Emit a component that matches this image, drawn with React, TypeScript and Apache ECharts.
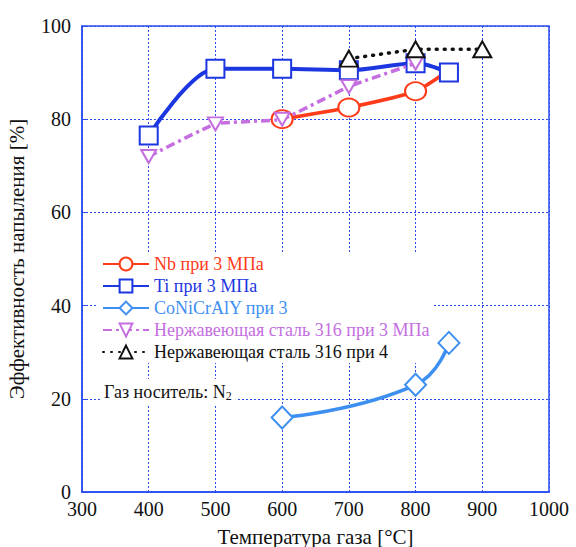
import React, { useEffect, useRef } from "react";
import * as echarts from "echarts";

const seriesNames = [
  "Nb при 3 МПа",
  "Ti при 3 МПа",
  "CoNiCrAlY при 3",
  "Нержавеющая сталь 316 при 3 МПа",
  "Нержавеющая сталь 316 при 4",
];
const nbTemps = [600, 700, 800, 850];
const nbValues = [80, 82.5, 86, 90.5];
const tiTemps = [400, 500, 600, 700, 800, 850];
const tiValues = [76.5, 90.8, 90.8, 90.5, 92, 90];
const coTemps = [600, 800, 850];
const coValues = [16, 23, 32];
const ss3Temps = [400, 500, 600, 700, 800];
const ss3Values = [72, 79, 80, 87, 92];
const ss4Temps = [700, 800, 900];
const ss4Values = [93, 95, 95];
const xTicks = { min: 300, max: 1000, interval: 100 };
const yTicks = { min: 0, max: 100, interval: 20 };
const note = "Газ носитель: N";

const FONT = "Times New Roman, Liberation Serif, serif";
const GRID_BLUE = "#2a4cf0";

export default function App() {
  const ref = useRef<HTMLDivElement>(null);
  useEffect(() => {
    document.body.style.margin = "0";
    const chart = echarts.init(ref.current!, null, { renderer: "svg" });
    const pairs = (xs: number[], ys: number[]) => xs.map((x, i) => [x, ys[i]]);
    const nbData: any[] = pairs(nbTemps, nbValues);
    nbData[nbData.length - 1] = { value: nbData[nbData.length - 1], symbol: "none" };
    const colors = ["#ff3b1a", "#1c36e0", "#3d8ff2", "#c46ee0", "#111111"];
    chart.setOption({
      animation: false,
      textStyle: { fontFamily: FONT },
      grid: {
        left: 82, right: 27, top: 26, bottom: 55,
        outerBoundsMode: "none", containLabel: false,
        show: true, borderColor: GRID_BLUE, borderWidth: 1.5,
      },
      xAxis: {
        type: "value",
        ...xTicks,
        name: "Температура газа [°C]",
        nameLocation: "middle",
        nameGap: 34,
        nameTextStyle: { fontFamily: FONT, fontSize: 21, color: "#111" },
        axisLine: { show: true, lineStyle: { color: GRID_BLUE, width: 1.5 } },
        axisTick: { show: false },
        axisLabel: { fontFamily: FONT, fontSize: 20, color: "#111", margin: 7, formatter: (v: number) => String(v) },
        splitLine: { show: true, lineStyle: { color: GRID_BLUE, type: [2, 2], width: 1 } },
      },
      yAxis: {
        type: "value",
        ...yTicks,
        name: "Эффективность напыления [%]",
        nameLocation: "middle",
        nameGap: 55,
        nameTextStyle: { fontFamily: FONT, fontSize: 21, color: "#111" },
        axisLine: { show: true, lineStyle: { color: GRID_BLUE, width: 1.5 } },
        axisTick: { show: true, inside: true, length: 5, lineStyle: { color: GRID_BLUE } },
        axisLabel: { fontFamily: FONT, fontSize: 20, color: "#111", margin: 11 },
        splitLine: { show: true, lineStyle: { color: GRID_BLUE, type: [2, 2], width: 1 } },
      },
      legend: {
        orient: "vertical",
        left: 98,
        top: 253,
        backgroundColor: "#fff",
        padding: [2, 4, 2, 4],
        itemGap: 4,
        itemWidth: 46,
        itemHeight: 16,
        data: seriesNames.map((n, i) => ({
          name: n,
          textStyle: { color: colors[i], fontFamily: FONT, fontSize: 18 },
        })),
      },
      graphic: [
        {
          type: "text",
          left: 100,
          top: 379,
          z: 10,
          style: {
            text: "{a|" + note + "}{s|2}",
            backgroundColor: "#fff",
            padding: [2, 4],
            rich: {
              a: { fontFamily: FONT, fontSize: 18, fill: "#111" },
              s: { fontFamily: FONT, fontSize: 12, fill: "#111", padding: [9, 0, 0, 0] },
            },
          },
        },
      ],
      series: [
        {
          name: seriesNames[0],
          type: "line",
          data: nbData,
          smooth: 0.2,
          symbol: "circle",
          symbolSize: [21, 18],
          color: colors[0],
          itemStyle: { color: "#fff", borderColor: colors[0], borderWidth: 2 },
          lineStyle: { color: colors[0], width: 3.5 },
          z: 3,
        },
        {
          name: seriesNames[1],
          type: "line",
          data: pairs(tiTemps, tiValues),
          smooth: 0.3,
          symbol: "rect",
          symbolSize: 18,
          color: colors[1],
          itemStyle: { color: "#fff", borderColor: colors[1], borderWidth: 2 },
          lineStyle: { color: colors[1], width: 4 },
          z: 4,
        },
        {
          name: seriesNames[2],
          type: "line",
          data: pairs(coTemps, coValues),
          smooth: 0.5,
          symbol: "diamond",
          symbolSize: [21, 22],
          color: colors[2],
          itemStyle: { color: "#fff", borderColor: colors[2], borderWidth: 2 },
          lineStyle: { color: colors[2], width: 3.5 },
          z: 3,
        },
        {
          name: seriesNames[3],
          type: "line",
          data: pairs(ss3Temps, ss3Values),
          smooth: 0.1,
          symbol: "triangle",
          symbolRotate: 180,
          symbolSize: [15, 13],
          color: colors[3],
          itemStyle: { color: "#fff", borderColor: colors[3], borderWidth: 2 },
          lineStyle: { color: colors[3], width: 3.5, type: [9, 4, 3, 4] },
          z: 5,
        },
        {
          name: seriesNames[4],
          type: "line",
          data: pairs(ss4Temps, ss4Values),
          symbol: "triangle",
          symbolSize: [18, 16],
          color: colors[4],
          itemStyle: { color: "#fff", borderColor: colors[4], borderWidth: 2 },
          lineStyle: { color: colors[4], width: 3.5, type: [1, 7], cap: "round" },
          z: 6,
        },
      ],
    });
    return () => chart.dispose();
  }, []);
  return <div ref={ref} style={{ position: "absolute", left: 0, top: 0, width: 576, height: 547 }} />;
}
